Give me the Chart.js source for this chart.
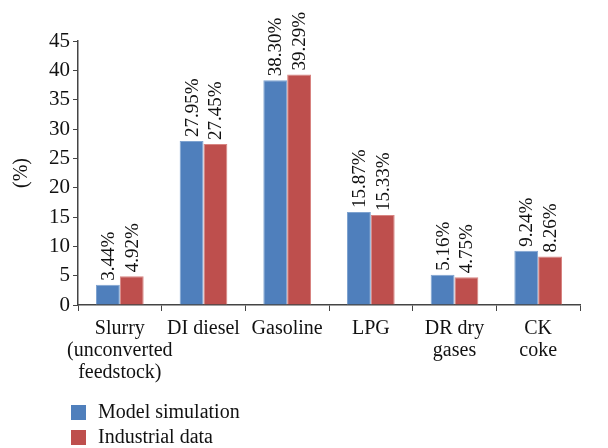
<!DOCTYPE html>
<html>
<head>
<meta charset="utf-8">
<script src="https://cdn.jsdelivr.net/npm/chart.js@4"></script>
<style>
  html, body { margin: 0; padding: 0; background: #fff; }
  #wrap { width: 608px; height: 448px; }
</style>
</head>
<body>
<div id="wrap"><canvas id="barChart" width="608" height="448"></canvas></div>
<script>
const categories = [
    ['Slurry', '(unconverted', 'feedstock)'],
    'DI diesel',
    'Gasoline',
    'LPG',
    ['DR dry', 'gases'],
    ['CK', 'coke']
];
const modelSimulation = [3.44, 27.95, 38.30, 15.87, 5.16, 9.24];
const industrialData = [4.92, 27.45, 39.29, 15.33, 4.75, 8.26];
const yTicks = [0, 5, 10, 15, 20, 25, 30, 35, 40, 45];

const serif = "'Liberation Serif', 'DejaVu Serif', serif";

// values printed vertically above each bar
const valueLabels = {
    id: 'valueLabels',
    afterDatasetsDraw(chart) {
        const ctx = chart.ctx;
        ctx.save();
        ctx.font = '19px ' + serif;
        ctx.fillStyle = '#111';
        ctx.textAlign = 'left';
        ctx.textBaseline = 'middle';
        chart.data.datasets.forEach((ds, i) => {
            chart.getDatasetMeta(i).data.forEach((bar, j) => {
                ctx.save();
                ctx.translate(bar.x + 1, bar.y - 4);
                ctx.rotate(-Math.PI / 2);
                ctx.fillText(ds.data[j].toFixed(2) + '%', 0, 0);
                ctx.restore();
            });
        });
        ctx.restore();
    }
};

// legend stacked in a column under the chart
const columnLegend = {
    id: 'columnLegend',
    afterDraw(chart) {
        const ctx = chart.ctx;
        ctx.save();
        ctx.font = '20px ' + serif;
        ctx.textBaseline = 'middle';
        chart.data.datasets.forEach((ds, i) => {
            const y = 412 + i * 25;
            ctx.fillStyle = ds.backgroundColor;
            ctx.fillRect(71, y - 7, 15, 15);
            ctx.fillStyle = '#111';
            ctx.fillText(ds.label, 98, y + 1);
        });
        ctx.restore();
    }
};

new Chart(document.getElementById('barChart'), {
    type: 'bar',
    data: {
        labels: categories,
        datasets: [
            { label: 'Model simulation', data: modelSimulation, backgroundColor: '#4F7FBC', borderColor: '#7FA3D0', borderWidth: 1 },
            { label: 'Industrial data', data: industrialData, backgroundColor: '#BE4F4D', borderColor: '#D88582', borderWidth: 1 }
        ]
    },
    options: {
        responsive: false,
        animation: false,
        datasets: { bar: { categoryPercentage: 0.57, barPercentage: 1 } },
        layout: { padding: { top: 41, right: 28, bottom: 0, left: 0 } },
        plugins: { legend: { display: false }, tooltip: { enabled: false } },
        scales: {
            x: {
                afterFit(axis) { axis.height = 143; },
                grid: { offset: true, drawOnChartArea: false, color: '#444', tickLength: 6 },
                border: { color: '#444', width: 1.5 },
                ticks: { color: '#111', font: { family: serif, size: 20, lineHeight: 1.1 }, padding: 7, maxRotation: 0, autoSkip: false }
            },
            y: {
                min: 0,
                max: 45,
                afterFit(axis) { axis.width = 78; },
                afterBuildTicks(axis) { axis.ticks = yTicks.map(v => ({ value: v })); },
                grid: { drawOnChartArea: false, color: '#444', tickLength: 5 },
                border: { color: '#444', width: 1.5 },
                title: { display: true, text: '(%)', color: '#111', font: { family: serif, size: 20 }, padding: { top: 10, bottom: 0 } },
                ticks: { color: '#111', font: { family: serif, size: 21 }, padding: 3 }
            }
        }
    },
    plugins: [valueLabels, columnLegend]
});
</script>
</body>
</html>
